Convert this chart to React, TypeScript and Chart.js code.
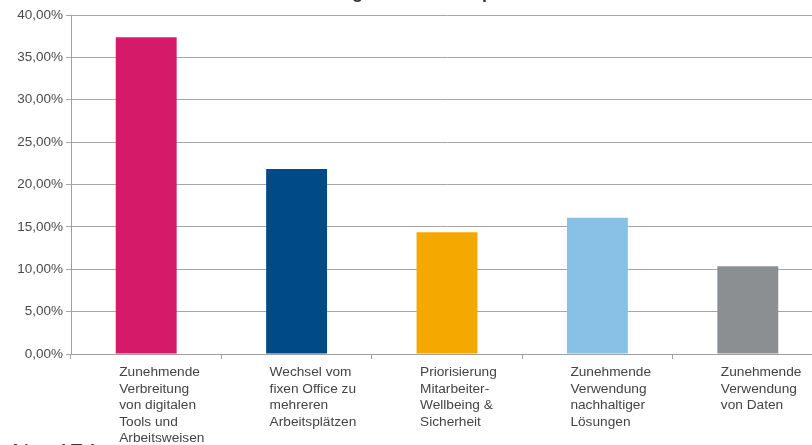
import React, { useEffect, useRef } from 'react';
import { Chart, registerables } from 'chart.js';

Chart.register(...registerables);

const categories: string[][] = [
  ['Zunehmende', 'Verbreitung', 'von digitalen', 'Tools und', 'Arbeitsweisen'],
  ['Wechsel vom', 'fixen Office zu', 'mehreren', 'Arbeitsplätzen'],
  ['Priorisierung', 'Mitarbeiter-', 'Wellbeing &', 'Sicherheit'],
  ['Zunehmende', 'Verwendung', 'nachhaltiger', 'Lösungen'],
  ['Zunehmende', 'Verwendung', 'von Daten'],
];
const values: number[] = [37.36, 21.84, 14.37, 16.09, 10.34];
const barColors: string[] = ['#D41A69', '#004A87', '#F5A800', '#87C1E6', '#8C8F92'];
const yMin = 0;
const yMax = 40;
const yStep = 5;
const titleText = 'Veränderungen am Arbeitsplatz';
const sampleNote = 'N = 174';

const FONT = "'Liberation Sans', Arial, sans-serif";

const overlayPlugin = {
  id: 'overlay',
  afterDraw(chart: any) {
    const ctx = chart.ctx as CanvasRenderingContext2D;
    const xScale = chart.scales.x;
    ctx.save();
    // category labels, left aligned, multi-line
    ctx.font = `13.7px ${FONT}`;
    ctx.fillStyle = '#444444';
    ctx.textAlign = 'left';
    ctx.textBaseline = 'alphabetic';
    categories.forEach((lines, i) => {
      const cx = xScale.getPixelForValue(i);
      const x = cx - 27;
      lines.forEach((line, j) => {
        ctx.fillText(line, x, xScale.top + 22 + j * 16.5);
      });
    });
    // sample size note (cut at the bottom edge)
    ctx.font = `24px ${FONT}`;
    ctx.fillStyle = '#3A3A3A';
    ctx.fillText(sampleNote, 12, 461);
    // title (mostly cut at the top edge)
    ctx.font = `bold 18px ${FONT}`;
    ctx.fillStyle = '#333333';
    const before = ctx.measureText('Veränderun').width;
    const gw = ctx.measureText('g').width;
    ctx.fillText(titleText, 357.5 - before - gw / 2, -2);
    ctx.restore();
  },
};

export default function App() {
  const ref = useRef<HTMLCanvasElement | null>(null);
  useEffect(() => {
    if (!ref.current) return;
    const chart = new Chart(ref.current, {
      type: 'bar',
      data: {
        labels: categories.map((c) => c.join(' ')),
        datasets: [
          {
            data: values,
            backgroundColor: barColors,
            borderWidth: 0,
            barPercentage: 0.405,
            categoryPercentage: 1,
          },
        ],
      },
      options: {
        animation: false,
        responsive: false,
        devicePixelRatio: 1,
        layout: { padding: { top: 15, right: 7, left: 0, bottom: 0 } },
        plugins: {
          legend: { display: false },
          title: { display: false },
          tooltip: { enabled: false },
        },
        scales: {
          x: {
            grid: {
              offset: true,
              drawOnChartArea: false,
              drawTicks: true,
              tickLength: 5,
              color: '#A0A0A0',
            },
            border: { color: '#A0A0A0' },
            ticks: { display: false },
            afterFit: (s: any) => {
              s.height = 91;
            },
          },
          y: {
            min: yMin,
            max: yMax,
            ticks: {
              stepSize: yStep,
              padding: 3,
              color: '#4A4A4A',
              font: { family: FONT, size: 13.5 },
              callback: (v: any) => Number(v).toFixed(2).replace('.', ',') + '%',
            },
            grid: { color: '#A6A6A6', tickLength: 5 },
            border: { color: '#A0A0A0' },
            afterFit: (s: any) => {
              s.width = 71;
            },
          },
        },
      },
      plugins: [overlayPlugin],
    });
    return () => chart.destroy();
  }, []);
  return (
    <div
      style={{
        position: 'absolute',
        left: 0,
        top: 0,
        width: 812,
        height: 445,
        overflow: 'hidden',
        background: '#fff',
      }}
    >
      <canvas ref={ref} width={830} height={445} style={{ display: 'block' }} />
    </div>
  );
}
